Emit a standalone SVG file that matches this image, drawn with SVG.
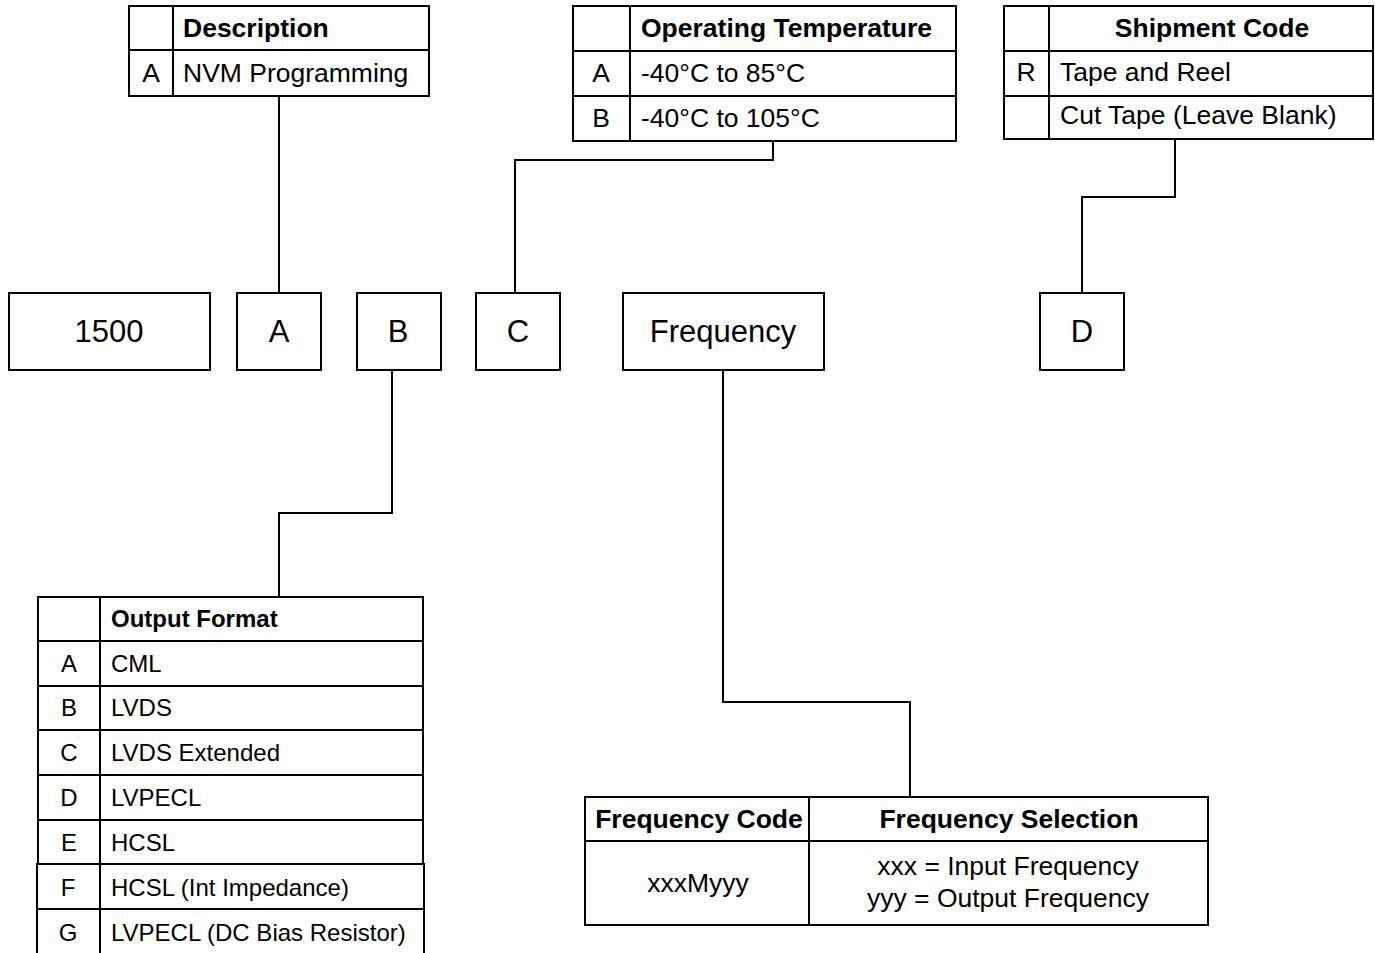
<svg xmlns="http://www.w3.org/2000/svg" width="1375" height="953" viewBox="0 0 1375 953">
<style>
.c{fill:#fff;stroke:#000;stroke-width:2}
.l{fill:none;stroke:#000;stroke-width:2}
text{font-family:"Liberation Sans",Arial,sans-serif;fill:#000}
.t{font-size:26.5px}
.b{font-size:26.5px;font-weight:bold}
.s{font-size:24px}
.sb{font-size:24px;font-weight:bold}
.box{font-size:31px}
.m{text-anchor:middle}
</style>
<rect width="1375" height="953" fill="#fff"/>
<g id="connectors">
<path class="l" d="M279,96 V293"/>
<path class="l" d="M773,141 V160 H515 V293"/>
<path class="l" d="M1175,139 V197 H1082 V293"/>
<path class="l" d="M392,370 V513 H279 V597"/>
<path class="l" d="M723,370 V702 H910 V797"/>
</g>
<g id="desc-table">
<rect class="c" x="129" y="6" width="300" height="90"/>
<path class="l" d="M173,6 V96 M129,50 H429"/>
<text class="b" x="183" y="37">Description</text>
<text class="t m" x="151" y="82">A</text>
<text class="t" x="183" y="82">NVM Programming</text>
</g>
<g id="temp-table">
<rect class="c" x="573" y="6" width="383" height="135"/>
<path class="l" d="M630,6 V141 M573,51 H956 M573,96 H956"/>
<text class="b" x="641" y="37">Operating Temperature</text>
<text class="t m" x="601" y="82">A</text>
<text class="t" x="641" y="82">-40°C to 85°C</text>
<text class="t m" x="601" y="127">B</text>
<text class="t" x="641" y="127">-40°C to 105°C</text>
</g>
<g id="ship-table">
<rect class="c" x="1004" y="6" width="369" height="133"/>
<path class="l" d="M1049,6 V139 M1004,51 H1373 M1004,96 H1373"/>
<text class="b m" x="1212" y="37">Shipment Code</text>
<text class="t m" x="1026" y="81">R</text>
<text class="t" x="1060" y="81">Tape and Reel</text>
<text class="t" x="1060" y="124">Cut Tape (Leave Blank)</text>
</g>
<g id="box-1500">
<rect class="c" x="9" y="293" width="201" height="77"/>
<text class="box m" x="109" y="342">1500</text>
</g>
<g id="box-A">
<rect class="c" x="237" y="293" width="84" height="77"/>
<text class="box m" x="279" y="342">A</text>
</g>
<g id="box-B">
<rect class="c" x="357" y="293" width="84" height="77"/>
<text class="box m" x="398" y="342">B</text>
</g>
<g id="box-C">
<rect class="c" x="476" y="293" width="84" height="77"/>
<text class="box m" x="518" y="342">C</text>
</g>
<g id="box-freq">
<rect class="c" x="623" y="293" width="201" height="77"/>
<text class="box m" x="723" y="342">Frequency</text>
</g>
<g id="box-D">
<rect class="c" x="1040" y="293" width="84" height="77"/>
<text class="box m" x="1082" y="342">D</text>
</g>
<g id="output-table">
<rect class="c" x="38" y="597" width="385" height="267"/>
<path class="l" d="M100,597 V864 M38,641 H423 M38,686 H423 M38,730 H423 M38,775 H423 M38,820 H423"/>
<rect class="c" x="37" y="864" width="387" height="45"/>
<path class="l" d="M100,864 V909"/>
<path class="l" d="M37,909 H424 M37,909 V955 M424,909 V955 M100,909 V955"/>
<text class="sb" x="111" y="627">Output Format</text>
<text class="s m" x="69" y="672">A</text>
<text class="s" x="111" y="672">CML</text>
<text class="s m" x="69" y="716">B</text>
<text class="s" x="111" y="716">LVDS</text>
<text class="s m" x="69" y="761">C</text>
<text class="s" x="111" y="761">LVDS Extended</text>
<text class="s m" x="69" y="806">D</text>
<text class="s" x="111" y="806">LVPECL</text>
<text class="s m" x="69" y="851">E</text>
<text class="s" x="111" y="851">HCSL</text>
<text class="s m" x="68" y="896">F</text>
<text class="s" x="111" y="896">HCSL (Int Impedance)</text>
<text class="s m" x="68" y="941">G</text>
<text class="s" x="111" y="941">LVPECL (DC Bias Resistor)</text>
</g>
<g id="freq-table">
<rect class="c" x="585" y="797" width="623" height="128"/>
<path class="l" d="M809,797 V925 M585,841 H1208"/>
<text class="b m" x="699" y="828">Frequency Code</text>
<text class="b m" x="1009" y="828">Frequency Selection</text>
<text class="t m" x="698" y="892">xxxMyyy</text>
<text class="t m" x="1008" y="875">xxx = Input Frequency</text>
<text class="t m" x="1008" y="907">yyy = Output Frequency</text>
</g>
</svg>
